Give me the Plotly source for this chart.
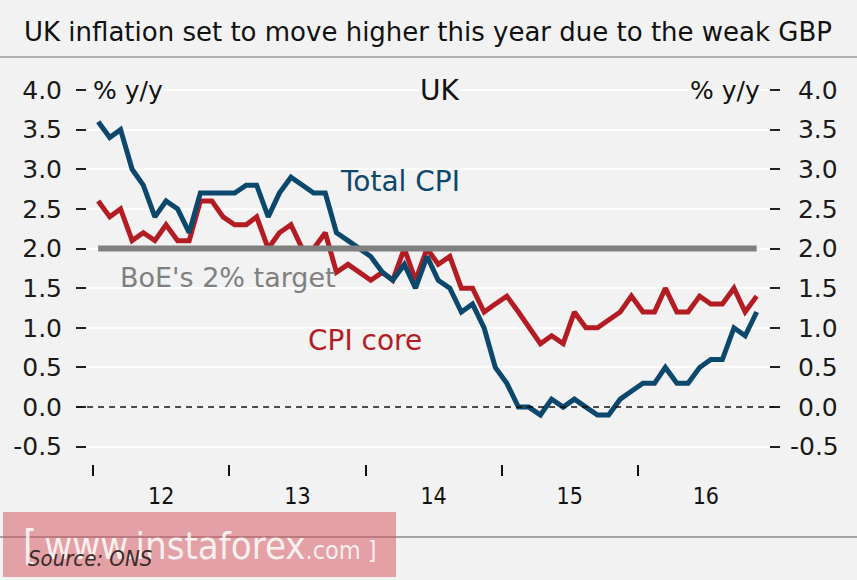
import pandas as pd
import plotly.graph_objects as go

# ---------------- data ----------------
months = pd.date_range("2012-01-01", periods=59, freq="MS") + pd.Timedelta(days=14)

cpi_total = [3.6, 3.4, 3.5, 3.0, 2.8, 2.4, 2.6, 2.5, 2.2, 2.7, 2.7, 2.7,
             2.7, 2.8, 2.8, 2.4, 2.7, 2.9, 2.8, 2.7, 2.7, 2.2, 2.1, 2.0,
             1.9, 1.7, 1.6, 1.8, 1.5, 1.9, 1.6, 1.5, 1.2, 1.3, 1.0, 0.5,
             0.3, 0.0, 0.0, -0.1, 0.1, 0.0, 0.1, 0.0, -0.1, -0.1, 0.1, 0.2,
             0.3, 0.3, 0.5, 0.3, 0.3, 0.5, 0.6, 0.6, 1.0, 0.9, 1.2]

cpi_core = [2.6, 2.4, 2.5, 2.1, 2.2, 2.1, 2.3, 2.1, 2.1, 2.6, 2.6, 2.4,
            2.3, 2.3, 2.4, 2.0, 2.2, 2.3, 2.0, 2.0, 2.2, 1.7, 1.8, 1.7,
            1.6, 1.7, 1.6, 2.0, 1.6, 2.0, 1.8, 1.9, 1.5, 1.5, 1.2, 1.3,
            1.4, 1.2, 1.0, 0.8, 0.9, 0.8, 1.2, 1.0, 1.0, 1.1, 1.2, 1.4,
            1.2, 1.2, 1.5, 1.2, 1.2, 1.4, 1.3, 1.3, 1.5, 1.2, 1.4]

boe_target = 2.0
y_ticks = [-0.5, 0.0, 0.5, 1.0, 1.5, 2.0, 2.5, 3.0, 3.5, 4.0]
y_tick_labels = ["-0.5", "0.0", "0.5", "1.0", "1.5", "2.0", "2.5", "3.0", "3.5", "4.0"]
first_year_tick = "2012-01-01"

title_text = "UK inflation set to move higher this year due to the weak GBP"

# ---------------- styles ----------------
BG = "#f2f2f2"
BLUE = "#0c476c"
RED = "#b41c24"
GRAY = "#808080"
FONT = "DejaVu Sans"
NARROW = "DejaVu Sans Condensed"
YRANGE = [-0.718, 4.076]

# right-side labels are right-aligned in the reference: pad non-negative ones
right_labels = [t if t.startswith("-") else "\u00a0" + t for t in y_tick_labels]

fig = go.Figure()

fig.add_trace(go.Scatter(x=months, y=cpi_core, mode="lines", name="CPI core",
                         line=dict(color=RED, width=5), yaxis="y"))
fig.add_trace(go.Scatter(x=months, y=cpi_total, mode="lines", name="Total CPI",
                         line=dict(color=BLUE, width=5), yaxis="y"))
fig.add_trace(go.Scatter(x=[months[0], months[-1]], y=[boe_target, boe_target],
                         mode="lines", name="BoE's 2% target",
                         line=dict(color=GRAY, width=6), yaxis="y2"))

axis_common = dict(range=YRANGE, tickmode="array", tickvals=y_ticks,
                   ticks="outside", ticklen=10, tickwidth=2, tickcolor="#222",
                   tickfont=dict(family=FONT, size=25, color="#1a1a1a"),
                   showline=False, zeroline=False, automargin=False)

fig.update_layout(
    width=857, height=580,
    paper_bgcolor=BG, plot_bgcolor=BG,
    margin=dict(l=87, r=88, t=84, b=116),
    showlegend=False,
    title=dict(text=title_text, x=0.5, xref="paper", y=1 - 32 / 580, yanchor="middle",
               font=dict(family=FONT, size=26, color="#111")),
    xaxis=dict(type="date", range=["2011-12-16", "2016-12-18"],
               tickmode="linear", tick0=first_year_tick, dtick="M12", tickformat="%y",
               ticklabelmode="period", ticks="outside", ticklen=11, tickwidth=1.5,
               tickcolor="#111", showgrid=False, showline=False, zeroline=False,
               tickfont=dict(family="DejaVu Sans Condensed", size=23, color="#111")),
    yaxis=dict(side="left", showgrid=True, gridcolor="#ffffff", gridwidth=2,
               ticktext=y_tick_labels, ticklabelstandoff=9, **axis_common),
    yaxis2=dict(side="right", overlaying="y", showgrid=False,
                ticktext=right_labels, ticklabelstandoff=5, **axis_common),
)

# zero dashed line
fig.add_shape(type="line", xref="paper", yref="y", x0=-0.016, x1=1.016, y0=0, y1=0,
              line=dict(color="#111", width=1.5, dash="6px,5px"), layer="above")

# title rule and bottom rule
fig.add_shape(type="line", xref="paper", yref="paper", x0=-0.2, x1=1.2,
              y0=(464 - 57) / 380, y1=(464 - 57) / 380,
              line=dict(color="#9a9a9a", width=1.5))
fig.add_shape(type="line", xref="paper", yref="paper", x0=-0.2, x1=1.2,
              y0=(464 - 537) / 380, y1=(464 - 537) / 380,
              line=dict(color="#8a8a8a", width=1.5))

# watermark box
fig.add_shape(type="rect", xref="paper", yref="paper",
              x0=(3 - 87) / 682, x1=(396 - 87) / 682,
              y0=(464 - 577) / 380, y1=(464 - 512) / 380,
              fillcolor="rgba(214,80,88,0.5)", line=dict(width=0), layer="above")

def ann(text, xpx, y, color, size, anchor="left", bg=None, yref="y", family=FONT):
    fig.add_annotation(text=text, x=(xpx - 87) / 682, xref="paper", y=y, yref=yref,
                       xanchor=anchor, yanchor="middle", showarrow=False,
                       font=dict(family=family, size=size, color=color),
                       bgcolor=bg, borderpad=0)

ann("% y/y", 92, 4.0, "#111", 25, "left", BG)
ann("UK", 439, 4.0, "#111", 28, "center", BG)
ann("% y/y", 761, 4.0, "#111", 25, "right", BG)
ann("Total CPI", 339, 2.852, BLUE, 28)
ann("BoE's 2% target", 119, 1.641, GRAY, 27)
ann("CPI core", 307, 0.834, RED, 28)

# watermark text and source
ann("<span style='font-size:40px'>[</span> <span style='font-size:38px'>www.instaforex</span>.com ]",
    22, (464 - 545) / 380, "rgba(255,255,255,0.85)", 25, "left", None, "paper", NARROW)
ann("<i>Source: ONS</i>", 27, (464 - 558) / 380, "#3a2b2b", 22, "left", None, "paper", NARROW)

fig.write_html("out.html", config={"displayModeBar": False},
               post_script="document.body.style.margin='0';document.body.style.padding='0';")
